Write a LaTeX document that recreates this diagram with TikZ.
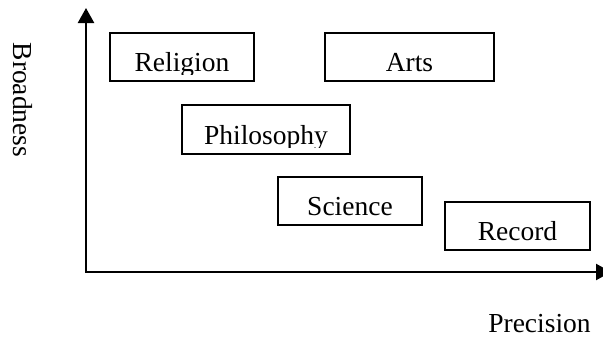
\documentclass[tikz,border=0pt]{standalone}
\usepackage{fontspec}
\setmainfont{Liberation Serif}
\usetikzlibrary{arrows.meta}
\tikzset{
  boxnode/.style={draw=black, line width=2pt, inner sep=0pt, anchor=north west},
  lbl/.style={inner sep=0pt, font=\fontsize{27.5pt}{32pt}\selectfont, text=black},
  axisline/.style={line width=2.4pt, draw=black,
    {Triangle[length=15pt,width=16pt]}-{Triangle[length=15pt,width=16pt]}},
}
\newcommand{\clippedlabel}[3]{%
  \begin{scope}
    \clip ([yshift=1pt]#1.north west) rectangle ([yshift=8pt]#1.south east);
    \node[lbl, anchor=base] (#2) at ([yshift=10.5pt]#1.south) {#3};
  \end{scope}}
\begin{document}
\begin{tikzpicture}[x=1pt,y=-1pt]
  \useasboundingbox (0,0) rectangle (603,338);
  \clip (0,0) rectangle (603,338);
  \fill[white] (0,0) rectangle (603,338);
  % axes
  \coordinate (ytop) at (86,8);
  \coordinate (origin) at (86,272);
  \coordinate (xend) at (611,272);
  \draw[axisline] (ytop) -- (origin) -- (xend);
  % boxes
  \node[boxnode, minimum width=144pt, minimum height=48pt] (religion) at (109,32) {};
  \node[boxnode, minimum width=169pt, minimum height=48pt] (arts) at (324,32) {};
  \node[boxnode, minimum width=168pt, minimum height=49pt] (philosophy) at (181,104) {};
  \node[boxnode, minimum width=144pt, minimum height=48pt] (science) at (277,176) {};
  \node[boxnode, minimum width=145pt, minimum height=48pt] (record) at (444,201) {};
  % labels inside boxes
  \clippedlabel{religion}{religionT}{Religion}
  \clippedlabel{arts}{artsT}{Arts}
  \clippedlabel{philosophy}{philosophyT}{Philosophy}
  \clippedlabel{science}{scienceT}{Science}
  \clippedlabel{record}{recordT}{Record}
  % axis labels
  \node[lbl, rotate=-90, anchor=base] (broad) at (13,100) {Broadness};
  \node[lbl, anchor=base] (prec) at (539.5,332) {Precision};
\end{tikzpicture}
\end{document}
